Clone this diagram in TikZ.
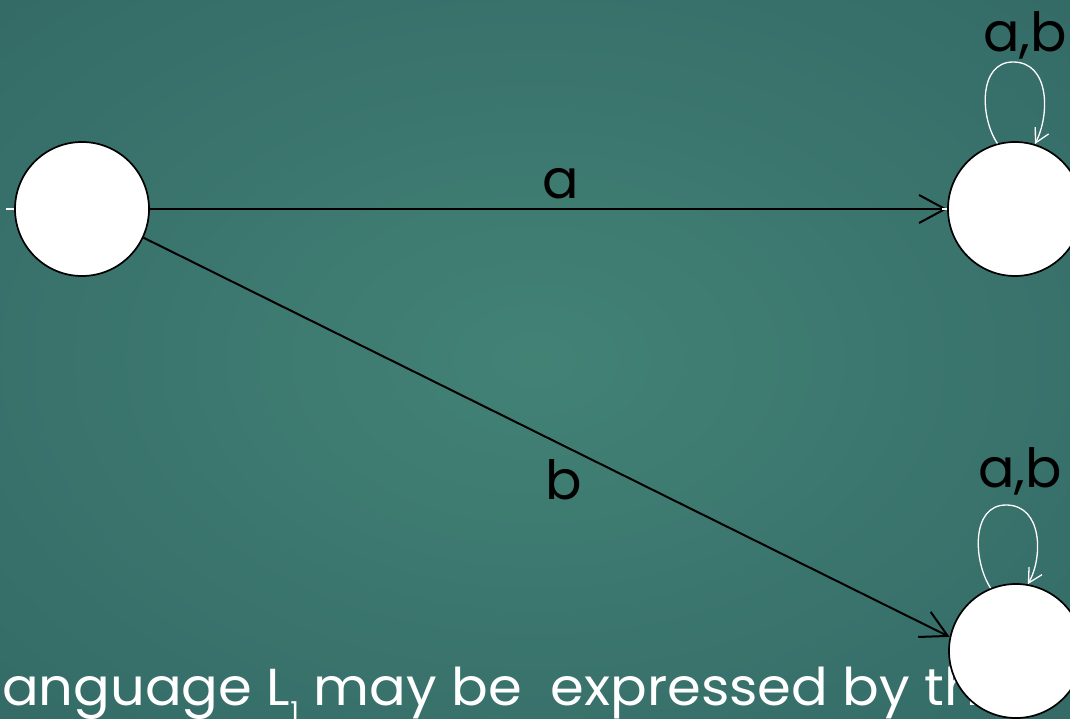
\documentclass[tikz,border=0pt]{standalone}
\usepackage{fontspec}
\setmainfont{Poppins}
\usetikzlibrary{arrows.meta}
\pgfdeclareradialshading{bgshade}{\pgfpoint{0bp}{0bp}}{rgb(0bp)=(0.26,0.51,0.46); rgb(50bp)=(0.18,0.38,0.38); rgb(72bp)=(0.15,0.34,0.35)}
\begin{document}
\begin{tikzpicture}[x=1pt,y=-1pt,
  state/.style={circle,draw=black,fill=white,line width=1.7pt,minimum size=134pt,inner sep=0pt},
  edge/.style={draw=black,line width=2pt,-{Straight Barb[length=26pt,width=28pt,line width=2pt]}},
  loopedge/.style={draw=white,line width=1.3pt,-{Straight Barb[length=14pt,width=15pt,line width=1.3pt]}},
  lbl/.style={font=\fontsize{54}{60}\selectfont,text=black,inner sep=0pt},
  bodytext/.style={font=\fontsize{52}{60}\selectfont,text=white,inner sep=0pt},
  tick/.style={draw=white,line width=2.5pt}]
\useasboundingbox (0,0) rectangle (1070,719);
\clip (0,0) rectangle (1070,719);
\shade[shading=bgshade] (0,0) rectangle (1070,719);
% bottom text (behind the node)
\node[bodytext,anchor=base west] (txt) at (2,705) {\scalebox{1.045}[1]{anguage L\raisebox{-0.3em}{\fontsize{26}{30}\selectfont 1} may be\ \ expressed by the}};
% states
\node[state] (q0) at (82,209) {};
\node[state] (q1) at (1015,209) {};
\node[state] (q2) at (1016,651) {};
% edges
\draw[edge] (q0) -- (q1);
\draw[edge] (q0.-25) -- (q2.168);
\node[lbl,anchor=base west] (la) at (542,199) {a};
\node[lbl,anchor=base west] (lb) at (545,499) {b};
% loops
\draw[loopedge] (q1.105) .. controls (980,118) and (978,62) .. (1013,62) .. controls (1050,62) and (1050,115) .. (q1.73);
\draw[loopedge] (q2.112) .. controls (973,561) and (971,505) .. (1006,505) .. controls (1043,505) and (1043,558) .. (q2.80);
\node[lbl,anchor=base west] (l1) at (983,52) {a,b};
\node[lbl,anchor=base west] (l2) at (978,487) {a,b};
% white stubs
\draw[tick] (q0.west) -- ++(-8,0);
\draw[tick] (q1.west) -- ++(-5,0);
\end{tikzpicture}
\end{document}
